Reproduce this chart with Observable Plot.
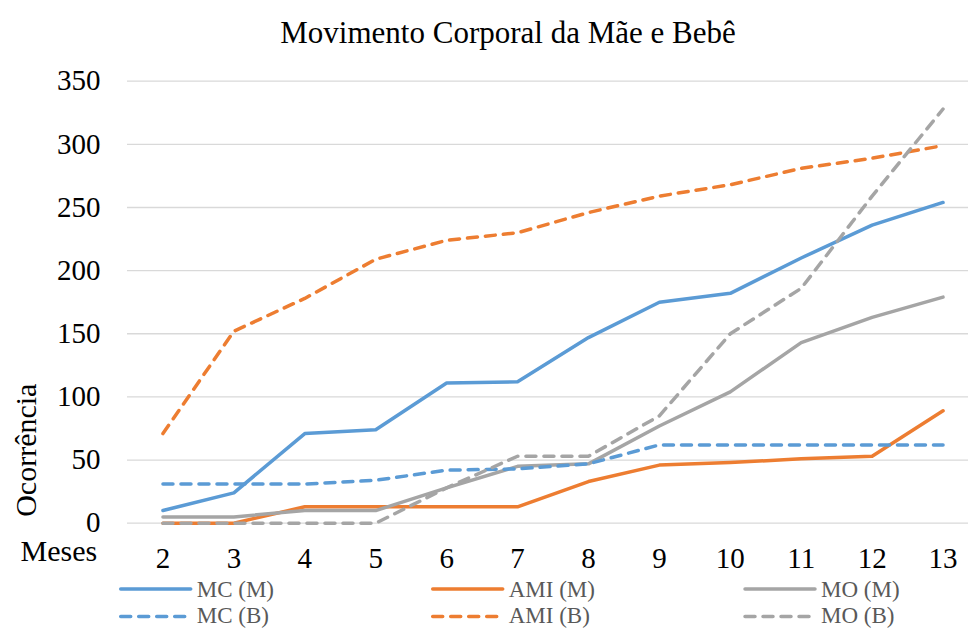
<!DOCTYPE html>
<html>
<head>
<meta charset="utf-8">
<script src="https://cdn.jsdelivr.net/npm/d3@7"></script>
<script src="https://cdn.jsdelivr.net/npm/@observablehq/plot@0.6"></script>
<style>
  html, body { margin: 0; padding: 0; background: #fff; }
  #wrap { position: relative; width: 968px; height: 628px; overflow: hidden; font-family: "Liberation Serif", "Times New Roman", serif; }
  #title { position: absolute; left: 0; top: 17px; width: 1016px; text-align: center; font-size: 31px; line-height: 1; color: #000; white-space: nowrap; }
  #chart { position: absolute; left: 0; top: 0; }
  #chart svg, #chart svg text, #chart svg g { font-family: "Liberation Serif", "Times New Roman", serif !important; }
  #legend { position: absolute; left: 0; top: 570px; }
</style>
</head>
<body>
<div id="wrap">
  <div id="chart"></div>
  <div id="title">Movimento Corporal da Mãe e Bebê</div>
  <div id="legend"></div>
</div>
<script>
const months = [2, 3, 4, 5, 6, 7, 8, 9, 10, 11, 12, 13];
const mcM  = [10, 24, 71, 74, 111, 112, 147, 175, 182, 210, 236, 254];
const amiM = [0, 0, 13, 13, 13, 13, 33, 46, 48, 51, 53, 89];
const moM  = [5, 5, 10, 10, 28, 45, 47, 77, 104, 143, 163, 179];
const mcB  = [31, 31, 31, 34, 42, 43, 47, 62, 62, 62, 62, 62];
const amiB = [71, 152, 178, 209, 224, 230, 246, 259, 268, 281, 289, 299];
const moB  = [0, 0, 0, 0, 28, 53, 53, 85, 150, 186, 259, 328];
const seriesNames = ["MC (M)", "AMI (M)", "MO (M)", "MC (B)", "AMI (B)", "MO (B)"];
const seriesValues = [mcM, amiM, moM, mcB, amiB, moB];
const seriesColors = ["#5B9BD5", "#ED7D31", "#A5A5A5", "#5B9BD5", "#ED7D31", "#A5A5A5"];
const seriesDashed = [false, false, false, true, true, true];
const yTicks = [0, 50, 100, 150, 200, 250, 300, 350];
const title = "Movimento Corporal da Mãe e Bebê";
const xLabel = "Meses";
const yLabel = "Ocorrência";

const DASH = "10,8";
const LW = 3.5;
const SERIF = "Liberation Serif";

const lineMarks = seriesNames.map((name, i) => {
  const rows = months.map((m, j) => ({month: m, value: seriesValues[i][j], series: name}));
  return Plot.line(rows, {
    x: "month", y: "value",
    stroke: seriesColors[i], strokeWidth: LW,
    strokeDasharray: seriesDashed[i] ? DASH : null,
    strokeLinecap: "round", strokeLinejoin: "round"
  });
});

const plot = Plot.plot({
  width: 968,
  height: 628,
  marginLeft: 127,
  marginRight: 0,
  marginTop: 80.7,
  marginBottom: 105.3,
  style: {fontSize: "29px", color: "#000", background: "transparent", overflow: "visible"},
  x: {domain: [1.5, 13.5], range: [127, 978]},
  y: {domain: [0, 350]},
  marks: [
    Plot.ruleY(yTicks, {stroke: "#d9d9d9", strokeWidth: 1.3}),
    ...lineMarks,
    Plot.axisY({ticks: yTicks, tickSize: 0, tickPadding: 27, label: null, fontSize: 29, fontFamily: SERIF}),
    Plot.axisX({ticks: months, tickSize: 0, tickPadding: 24, label: null, fontSize: 29, fontFamily: SERIF}),
    Plot.text([xLabel], {text: d => d, frameAnchor: "bottom-left", textAnchor: "start", lineAnchor: "bottom", dx: -107, dy: 38, fontSize: 30, fontFamily: SERIF}),
    Plot.text([yLabel], {text: d => d, frameAnchor: "left", rotate: -90, textAnchor: "middle", lineAnchor: "bottom", dx: -92, dy: 148, fontSize: 30, fontFamily: SERIF})
  ]
});
document.getElementById("chart").appendChild(plot);
document.getElementById("title").textContent = title;

// legend
const lg = d3.select("#legend").append("svg").attr("width", 968).attr("height", 58).style("overflow", "visible");
const colX = [120.7, 432.7, 745];
const rowLineY = [19, 46.5];
const rowTextY = [27, 53];
seriesNames.forEach((name, i) => {
  const c = i % 3, r = Math.floor(i / 3);
  const g = lg.append("g");
  g.append("line")
    .attr("x1", colX[c]).attr("x2", colX[c] + 70)
    .attr("y1", rowLineY[r]).attr("y2", rowLineY[r])
    .attr("stroke", seriesColors[i]).attr("stroke-width", LW)
    .attr("stroke-linecap", "round")
    .attr("stroke-dasharray", seriesDashed[i] ? DASH : null);
  g.append("text")
    .attr("x", colX[c] + 76).attr("y", rowTextY[r])
    .attr("font-family", "'Liberation Serif', 'Times New Roman', serif")
    .attr("font-size", 23).attr("fill", "#595959")
    .text(name);
});
</script>
</body>
</html>
